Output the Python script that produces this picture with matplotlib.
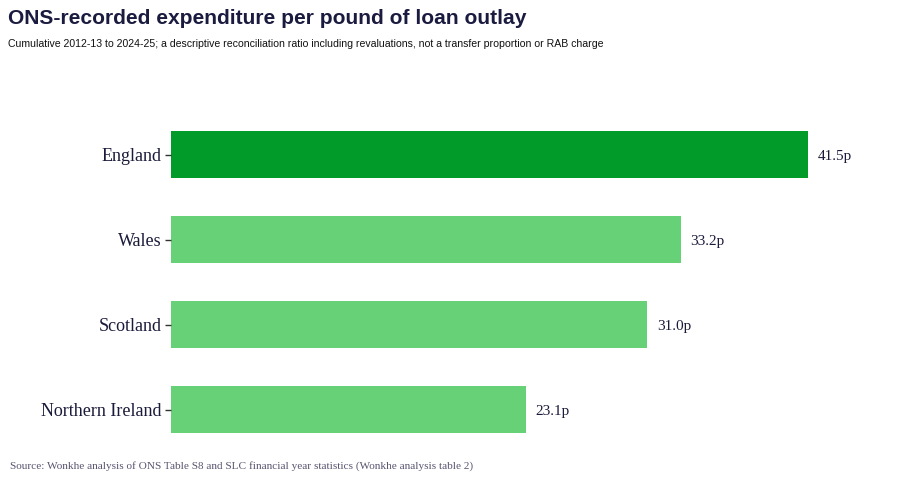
import matplotlib
matplotlib.use("Agg")
import matplotlib.pyplot as plt

categories = ["England", "Wales", "Scotland", "Northern Ireland"]
values = [41.5, 33.2, 31.0, 23.1]
value_labels = ["41.5p", "33.2p", "31.0p", "23.1p"]
colors = ["#009b29", "#66d176", "#66d176", "#66d176"]

title = "ONS-recorded expenditure per pound of loan outlay"
subtitle = ("Cumulative 2012-13 to 2024-25; a descriptive reconciliation ratio including "
            "revaluations, not a transfer proportion or RAB charge")
source = "Source: Wonkhe analysis of ONS Table S8 and SLC financial year statistics (Wonkhe analysis table 2)"

W, H = 904, 482
fig = plt.figure(figsize=(W / 100, H / 100), dpi=100)
ax = fig.add_axes([171 / W, 1 - 452 / H, 709 / W, 340 / H])

ypos = list(range(len(categories)))
ax.barh(ypos, values, height=0.553, color=colors)
ax.set_ylim(3.5, -0.5)
ax.set_xlim(0, 709 / 15.35)
ax.set_yticks(ypos)
ax.set_yticklabels(categories, fontfamily="Liberation Serif", fontsize=13, color="#1a1a3a")
ax.tick_params(axis="y", length=4, width=1, color="#333333", pad=3)
ax.set_xticks([])
for s in ax.spines.values():
    s.set_visible(False)

for y, v, lab in zip(ypos, values, value_labels):
    ax.text(v + 0.65, y + 0.02, lab, va="center", ha="left", fontfamily="Liberation Serif",
            fontsize=11, color="#1a1a3a")

fig.text(8 / W, 1 - 18 / H, title, fontfamily="Liberation Sans", fontweight="bold",
         fontsize=15.1, color="#1b1b40", va="center", ha="left")
fig.text(8 / W, 1 - 44 / H, subtitle, fontfamily="Liberation Sans", fontsize=7.6,
         color="#111111", va="center", ha="left")
fig.text(10 / W, 1 - 466 / H, source, fontfamily="Liberation Serif", fontsize=8.15,
         color="#5a5470", va="center", ha="left")

fig.savefig("out.png", dpi=100)
